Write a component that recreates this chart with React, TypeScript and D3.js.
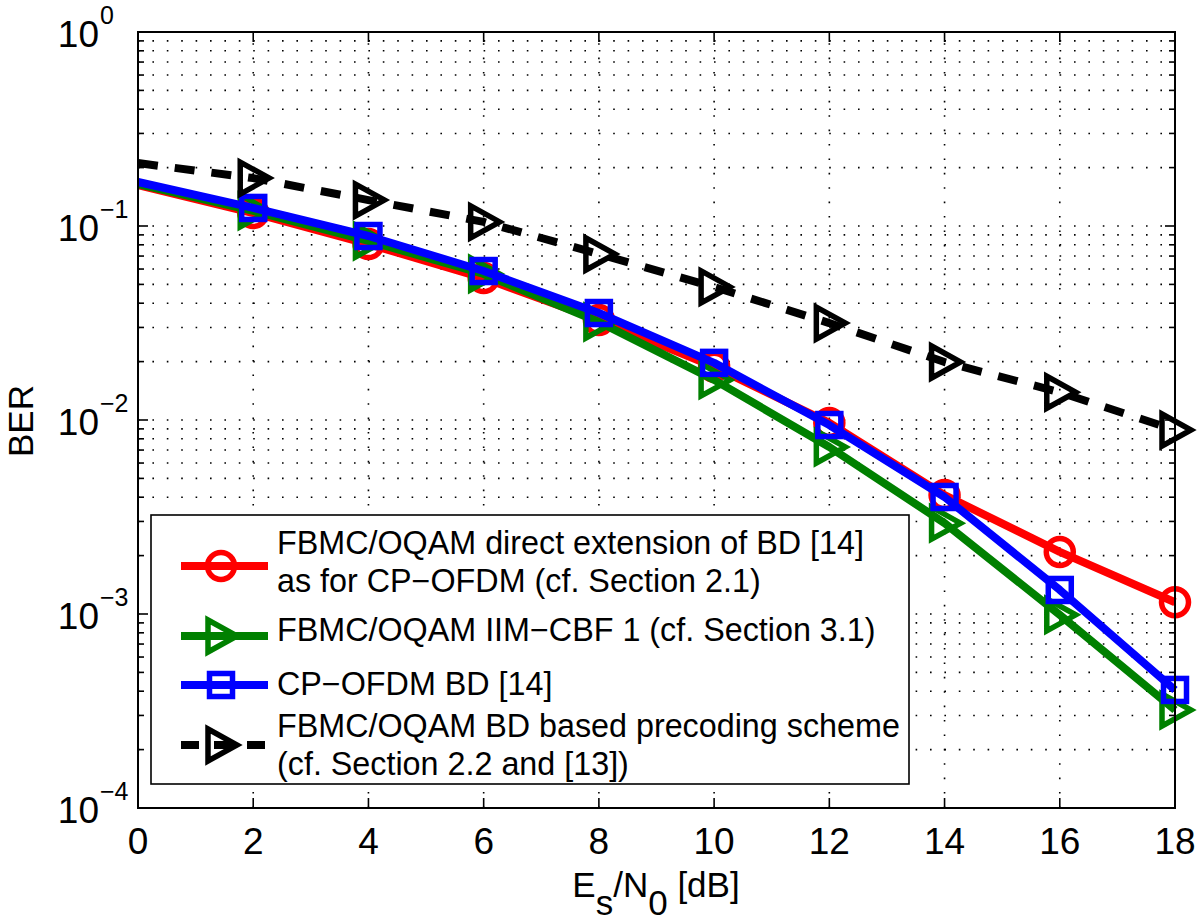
import React from "react";
import * as d3 from "d3";

const snr = [0, 2, 4, 6, 8, 10, 12, 14, 16, 18];
const berDirectExt = [0.1626, 0.1167, 0.0807, 0.0539, 0.0328, 0.0188, 0.00966, 0.0041, 0.00209, 0.00115];
const berIimCbf = [0.1646, 0.1196, 0.0837, 0.0566, 0.032, 0.0161, 0.00726, 0.00294, 0.00099, 0.00032];
const berCpOfdm = [0.1686, 0.1239, 0.0888, 0.0586, 0.0356, 0.0197, 0.00942, 0.00401, 0.00133, 0.000406];
const berBdPrecoding = [0.211, 0.1766, 0.136, 0.105, 0.0717, 0.0485, 0.0316, 0.0199, 0.0139, 0.00888];

const xTicks = [0, 2, 4, 6, 8, 10, 12, 14, 16, 18];
const yDecades = [-4, -3, -2, -1, 0];

const seriesNames = [
  ["FBMC/OQAM direct extension of BD [14]", "as for CP\u2212OFDM (cf. Section 2.1)"],
  ["FBMC/OQAM IIM\u2212CBF 1 (cf. Section 3.1)"],
  ["CP\u2212OFDM BD [14]"],
  ["FBMC/OQAM BD based precoding scheme", "(cf. Section 2.2 and [13])"],
];

const W = 1200;
const H = 923;
const L = 138, R = 1175, T = 32, B = 808;
const FONT = "'Liberation Sans', Arial, Helvetica, sans-serif";

type Series = { vals: number[]; color: string; marker: "o" | ">" | "s"; dash?: string };

const series: Series[] = [
  { vals: berDirectExt, color: "#ff0000", marker: "o" },
  { vals: berIimCbf, color: "#008000", marker: ">" },
  { vals: berCpOfdm, color: "#0000ff", marker: "s" },
  { vals: berBdPrecoding, color: "#000000", marker: ">", dash: "20,17" },
];

function Marker({ type, cx, cy, color }: { type: string; cx: number; cy: number; color: string }) {
  const sw = 5.5;
  if (type === "o") return <circle cx={cx} cy={cy} r={13.5} fill="none" stroke={color} strokeWidth={sw} />;
  if (type === "s") return <rect x={cx - 11.5} y={cy - 11.5} width={23} height={23} fill="none" stroke={color} strokeWidth={sw} />;
  const p = `M${cx - 13},${cy - 16}L${cx - 13},${cy + 16}L${cx + 16},${cy}Z`;
  return <path d={p} fill="none" stroke={color} strokeWidth={sw} strokeLinejoin="miter" />;
}

export default function App() {
  const x = d3.scaleLinear().domain([0, 18]).range([L, R]);
  const y = d3.scaleLog().domain([1e-4, 1]).range([B, T]);
  const line = d3.line<number>().x((_, i) => x(snr[i])).y((v) => y(v));

  const minorY: number[] = [];
  for (let e = -4; e < 0; e++) for (let m = 2; m <= 9; m++) minorY.push(m * Math.pow(10, e));
  const majorY = yDecades.map((e) => Math.pow(10, e));

  const legendRows = [
    { base: [554, 592], my: 566 },
    { base: [641], my: 636 },
    { base: [695], my: 685 },
    { base: [737, 775], my: 745 },
  ];

  return (
    <svg width={W} height={H} style={{ position: "absolute", left: 0, top: 0, background: "#fff" }} fontFamily={FONT}>
      <rect x={0} y={0} width={W} height={H} fill="#fff" />
      {/* grid */}
      <g stroke="#000" strokeWidth={1.6} strokeDasharray="1.6,12.8" fill="none">
        {[...minorY, ...majorY.slice(1, -1)].map((v, i) => (
          <line key={"h" + i} x1={L} x2={R} y1={y(v)} y2={y(v)} />
        ))}
        {xTicks.slice(1, -1).map((t) => (
          <line key={"v" + t} x1={x(t)} x2={x(t)} y1={B} y2={T} />
        ))}
      </g>
      {/* ticks */}
      <g stroke="#000" strokeWidth={1.6}>
        {xTicks.map((t) => (
          <g key={"xt" + t}>
            <line x1={x(t)} x2={x(t)} y1={B} y2={B - 10} />
            <line x1={x(t)} x2={x(t)} y1={T} y2={T + 10} />
          </g>
        ))}
        {majorY.map((v, i) => (
          <g key={"ym" + i}>
            <line x1={L} x2={L + 10} y1={y(v)} y2={y(v)} />
            <line x1={R} x2={R - 10} y1={y(v)} y2={y(v)} />
          </g>
        ))}
        {minorY.map((v, i) => (
          <g key={"yn" + i}>
            <line x1={L} x2={L + 6} y1={y(v)} y2={y(v)} />
            <line x1={R} x2={R - 6} y1={y(v)} y2={y(v)} />
          </g>
        ))}
      </g>
      {/* series */}
      {series.map((s, si) => (
        <g key={"s" + si}>
          <path
            d={line(s.vals) || ""}
            fill="none"
            stroke={s.color}
            strokeWidth={8}
            strokeDasharray={s.dash}
            strokeLinejoin="round"
          />
          {s.vals.map((v, i) =>
            i === 0 ? null : <Marker key={i} type={s.marker} cx={x(snr[i])} cy={y(v)} color={s.color} />
          )}
        </g>
      ))}
      {/* axes box */}
      <rect x={L} y={T} width={R - L} height={B - T} fill="none" stroke="#000" strokeWidth={2} />
      {/* x tick labels */}
      {xTicks.map((t) => (
        <text key={"xl" + t} x={x(t)} y={854} textAnchor="middle" fontSize={37}>
          {t}
        </text>
      ))}
      {/* y tick labels */}
      {yDecades.map((e) => (
        <g key={"yl" + e}>
          <text x={99} y={y(Math.pow(10, e)) + 15} textAnchor="end" fontSize={37}>
            10
          </text>
          <text x={100} y={y(Math.pow(10, e)) - 8} fontSize={25}>
            {e === 0 ? "0" : "\u2212" + Math.abs(e)}
          </text>
        </g>
      ))}
      {/* axis labels */}
      <text x={656} y={897} textAnchor="middle" fontSize={35}>
        E<tspan dy={18}>s</tspan>
        <tspan dy={-18}>/N</tspan>
        <tspan dy={18}>0</tspan>
        <tspan dy={-18}> [dB]</tspan>
      </text>
      <text transform="translate(33,421) rotate(-90)" textAnchor="middle" fontSize={35}>
        BER
      </text>
      {/* legend */}
      <rect x={151} y={515} width={758} height={269} fill="#fff" stroke="#000" strokeWidth={1.6} />
      {series.map((s, si) => {
        const row = legendRows[si];
        return (
          <g key={"lg" + si}>
            <line
              x1={181}
              x2={268}
              y1={row.my}
              y2={row.my}
              stroke={s.color}
              strokeWidth={8}
              strokeDasharray={s.dash ? "18,15" : undefined}
            />
            <Marker type={s.marker} cx={221} cy={row.my} color={s.color} />
            {seriesNames[si].map((t, k) => (
              <text key={k} x={277} y={row.base[k]} fontSize={32.3}>
                {t}
              </text>
            ))}
          </g>
        );
      })}
    </svg>
  );
}
